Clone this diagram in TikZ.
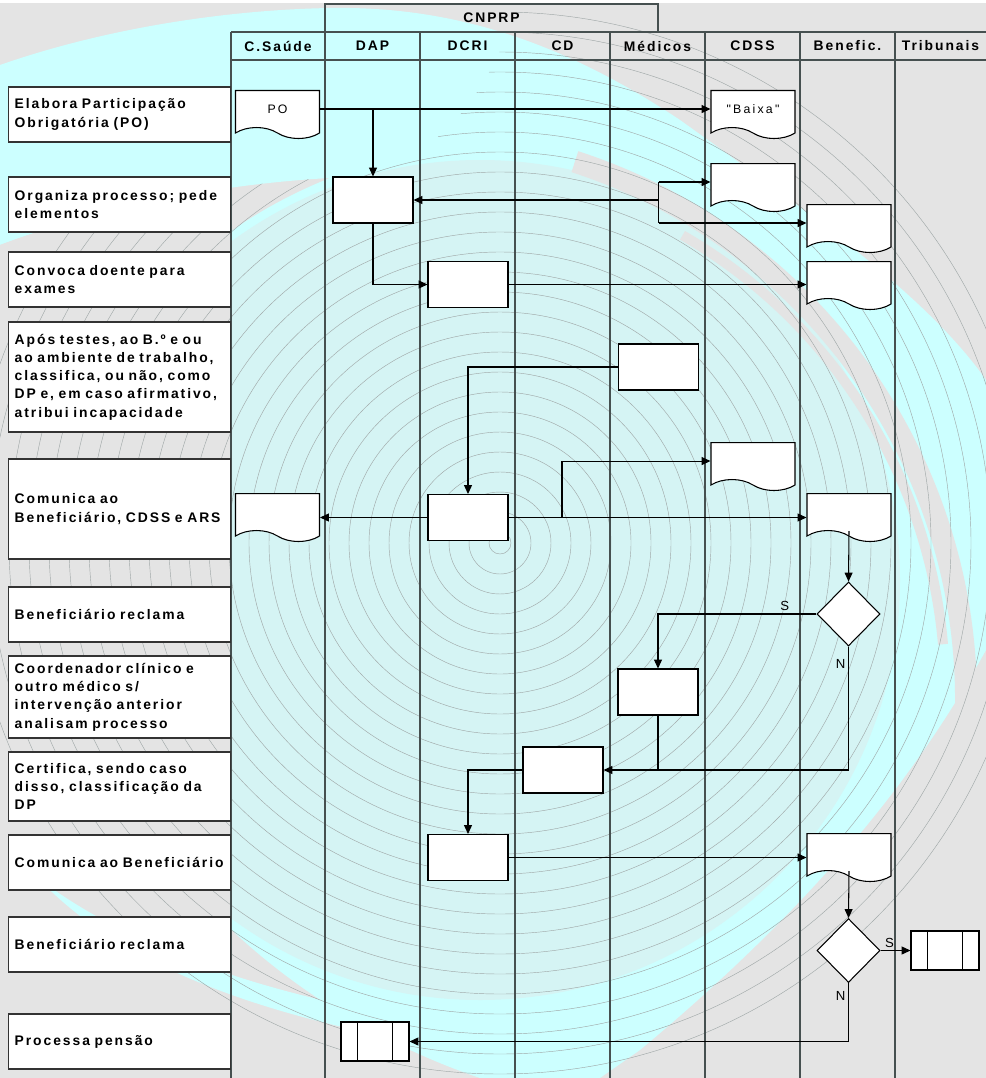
\documentclass[tikz,border=0pt]{standalone}
\usepackage{fontspec}
\setmainfont{Liberation Sans}
\newfontfamily\lblfont[LetterSpace=14]{Liberation Sans}
\newfontfamily\shpfont[LetterSpace=18]{Liberation Sans}
\usetikzlibrary{arrows.meta,shapes.geometric,shapes.symbols}
\definecolor{bggray}{HTML}{E4E4E4}
\definecolor{bgcyan}{HTML}{CCFFFF}
\definecolor{bgtint}{HTML}{D5F4F4}
\definecolor{ringgray}{HTML}{A0A8A8}
\definecolor{lanegray}{HTML}{465050}

\begin{document}
\begin{tikzpicture}
      [x=0.02cm, y=-0.02cm,
      actbox/.style={draw=black!80, line width=0.8pt, fill=white, anchor=west, align=left,
        text width=4.2cm, inner xsep=0.12cm, font=\lblfont\bfseries\fontsize{7.9}{10.4}\selectfont},
      hdr/.style={font=\lblfont\bfseries\fontsize{7.9}{10.4}\selectfont},
      procbox/.style={draw, line width=0.6pt, fill=white, minimum width=1.6cm, minimum height=0.92cm, inner sep=0pt},
      docbox/.style={tape, tape bend top=none, tape bend bottom=out and in, tape bend height=0.22cm,
        draw, line width=0.6pt, fill=white, minimum width=1.68cm, minimum height=0.96cm, inner sep=0pt,
        anchor=north, font=\shpfont\fontsize{7}{8}\selectfont},
      decbox/.style={diamond, draw, line width=0.6pt, fill=white, minimum width=1.26cm, minimum height=1.28cm, inner sep=0pt},
      predbox/.style={draw, line width=0.6pt, fill=white, minimum width=1.36cm, minimum height=0.78cm, inner sep=0pt,
        path picture={
          \draw ([xshift=0.33cm]path picture bounding box.north west) -- ([xshift=0.33cm]path picture bounding box.south west);
          \draw ([xshift=-0.33cm]path picture bounding box.north east) -- ([xshift=-0.33cm]path picture bounding box.south east);
        }},
      flow/.style={draw, line width=0.6pt, -{Triangle[length=5pt,width=4.5pt]}},
      lane/.style={draw=lanegray, line width=0.8pt},
      lbl/.style={font=\fontsize{7.5}{8}\selectfont, inner sep=1.5pt}]
      \useasboundingbox (0,0) rectangle (986,1078);

      % background
      \begin{scope}
        \clip (0,3) rectangle (986,1078);
        \fill[bggray] (0,3) rectangle (986,1078);
        \fill[bgcyan] (0,65) .. controls (100,30) and (220,10) .. (330,8)
          .. controls (450,6) and (560,40) .. (680,120)
          .. controls (820,220) and (930,300) .. (986,380) -- (986,650)
          .. controls (920,770) and (820,900) .. (640,1050) -- (600,1078) -- (480,1078)
          .. controls (250,1000) and (60,800) .. (60,560)
          .. controls (60,400) and (150,250) .. (330,178)
          .. controls (200,185) and (80,215) .. (0,245) -- cycle;
        \fill[bgtint] (480,580) circle (420);
        \fill[bggray] (0,245) .. controls (80,215) and (180,192) .. (231,186)
          -- (231,1078) -- (0,1078) -- cycle;
        \fill[bgcyan] (40,880) .. controls (150,960) and (300,1010) .. (560,1040)
          -- (560,1062) .. controls (300,1035) and (130,975) .. (40,880) -- cycle;
        \fill[bggray] (400,700) ++(-72:555) arc[start angle=-72, end angle=8, radius=555]
          -- ++(8:22) arc[start angle=8, end angle=-72, radius=577] -- cycle;
        \fill[bggray] (420,690) ++(-60:520) arc[start angle=-60, end angle=-5, radius=520]
          -- ++(-5:10) arc[start angle=-5, end angle=-60, radius=530] -- cycle;
        \clip (0,245) .. controls (80,215) and (200,185) .. (330,178)
          .. controls (420,172) and (480,120) .. (520,0) -- (986,0) -- (986,1078) -- (0,1078) -- cycle;
        \foreach \r in {11,31,...,531}
          \draw[ringgray, line width=0.25pt] (500,543) circle (\r);
      \end{scope}

      % lanes and header
      \draw[lane] (325,4) rectangle (658,32);
      \draw[lane] (231,32) -- (986,32) (231,60) -- (986,60);
      \draw[lane] (231,32) -- (231,1078) (325,32) -- (325,1078) (420,32) -- (420,1078)
        (515,32) -- (515,1078) (610,32) -- (610,1078) (705,32) -- (705,1078)
        (800,32) -- (800,1078) (895,32) -- (895,1078);
      \node[hdr] (cnprp) at (491.5,18) {CNPRP};
      \node[hdr] (hsaude) at (278,46) {C.Saúde};
      \node[hdr] (hdap) at (372.5,46) {DAP};
      \node[hdr] (hdcri) at (467.5,46) {DCRI};
      \node[hdr] (hcd) at (562.5,46) {CD};
      \node[hdr] (hmed) at (657.5,46) {Médicos};
      \node[hdr] (hcdss) at (752.5,46) {CDSS};
      \node[hdr] (hben) at (847.5,46) {Benefic.};
      \node[hdr] (htrib) at (940.5,46) {Tribunais};

      % activities
      \node[actbox, minimum height=1.1cm] (elabora) at (8,114.5) {Elabora Participação\\Obrigatória (PO)};
      \node[actbox, minimum height=1.1cm] (organiza) at (8,204.5) {Organiza processo; pede\\elementos};
      \node[actbox, minimum height=1.1cm] (convoca) at (8,279.5) {Convoca doente para\\exames};
      \node[actbox, minimum height=2.2cm] (classifica) at (8,377) {Após testes, ao B.º e ou\\ao ambiente de trabalho,\\classifica, ou não, como\\DP e, em caso afirmativo,\\atribui incapacidade};
      \node[actbox, minimum height=2.0cm] (comunica) at (8,509) {Comunica ao\\Beneficiário, CDSS e ARS};
      \node[actbox, minimum height=1.1cm] (reclama) at (8,614.5) {Beneficiário reclama};
      \node[actbox, minimum height=1.64cm] (coordena) at (8,697) {Coordenador clínico e\\outro médico s/\\intervenção anterior\\analisam processo};
      \node[actbox, minimum height=1.38cm] (certifica) at (8,786.5) {Certifica, sendo caso\\disso, classificação da\\DP};
      \node[actbox, minimum height=1.1cm] (comunicab) at (8,862.5) {Comunica ao Beneficiário};
      \node[actbox, minimum height=1.1cm] (reclamab) at (8,944.5) {Beneficiário reclama};
      \node[actbox, minimum height=1.1cm] (processa) at (8,1041.5) {Processa pensão};

      % flow shapes
      \node[docbox] (po) at (277.5,90) {PO};
      \node[docbox] (baixa) at (753,90) {"Baixa"};
      \node[procbox] (dap2) at (373,200) {};
      \node[docbox] (cdss2) at (753,163) {};
      \node[docbox] (ben2) at (849,204) {};
      \node[procbox] (dcri3) at (468,284.5) {};
      \node[docbox] (ben3) at (849,261) {};
      \node[procbox] (med4) at (658.5,367) {};
      \node[docbox] (saude5) at (277.5,493) {};
      \node[procbox] (dcri5) at (468,517.5) {};
      \node[docbox] (cdss5) at (753,442) {};
      \node[docbox] (ben5) at (849,493) {};
      \node[decbox] (dec6) at (848.5,614) {};
      \node[procbox] (med7) at (658,692) {};
      \node[procbox] (cd8) at (563,770) {};
      \node[procbox] (dcri9) at (468,857.5) {};
      \node[docbox] (ben9) at (849,833) {};
      \node[decbox] (dec10) at (848.5,950.5) {};
      \node[predbox] (trib10) at (945,950.5) {};
      \node[predbox] (dap11) at (375,1041.5) {};

      % connectors
      \coordinate (fork2) at (dap2.east -| med4.center);
      \coordinate (fork5) at (562,517.5);
      \draw[flow] (po.east) -- (baixa.west);
      \draw[flow] (po.east -| dap2.north) -- (dap2.north);
      \draw[line width=0.6pt] (fork2 |- cdss2.west) -- (fork2 |- ben2.west);
      \draw[flow] (fork2) -- (dap2.east);
      \draw[flow] (fork2 |- cdss2.west) -- (cdss2.west);
      \draw[flow] (fork2 |- ben2.west) -- (ben2.west);
      \draw[flow] (dap2.south) |- (dcri3.west);
      \draw[flow] (dcri3.east) -- (dcri3.east -| ben3.west);
      \draw[flow] (med4.west) -| (dcri5.north);
      \draw[flow] (dcri5.west) -- (dcri5.west -| saude5.east);
      \draw[flow] (dcri5.east) -- (dcri5.east -| ben5.west);
      \draw[flow] (fork5) |- (cdss5.west);
      \draw[flow] (ben5.south) -- (dec6.north);
      \draw[flow] (dec6.west) -| (med7.north) node[lbl, pos=0.1, above] {S};
      \draw[flow] (dec6.south) |- (cd8.east) node[lbl, pos=0.07, left] {N};
      \draw[line width=0.6pt] (med7.south) -- (med7.south |- cd8.east);
      \draw[flow] (cd8.west) -| (dcri9.north);
      \draw[flow] (dcri9.east) -- (dcri9.east -| ben9.west);
      \draw[flow] (ben9.south) -- (dec10.north);
      \draw[flow] (dec10.east) -- (trib10.west) node[lbl, pos=0.3, above] {S};
      \draw[flow] (dec10.south) |- (dap11.east) node[lbl, pos=0.11, left] {N};
    \end{tikzpicture}
\end{document}
